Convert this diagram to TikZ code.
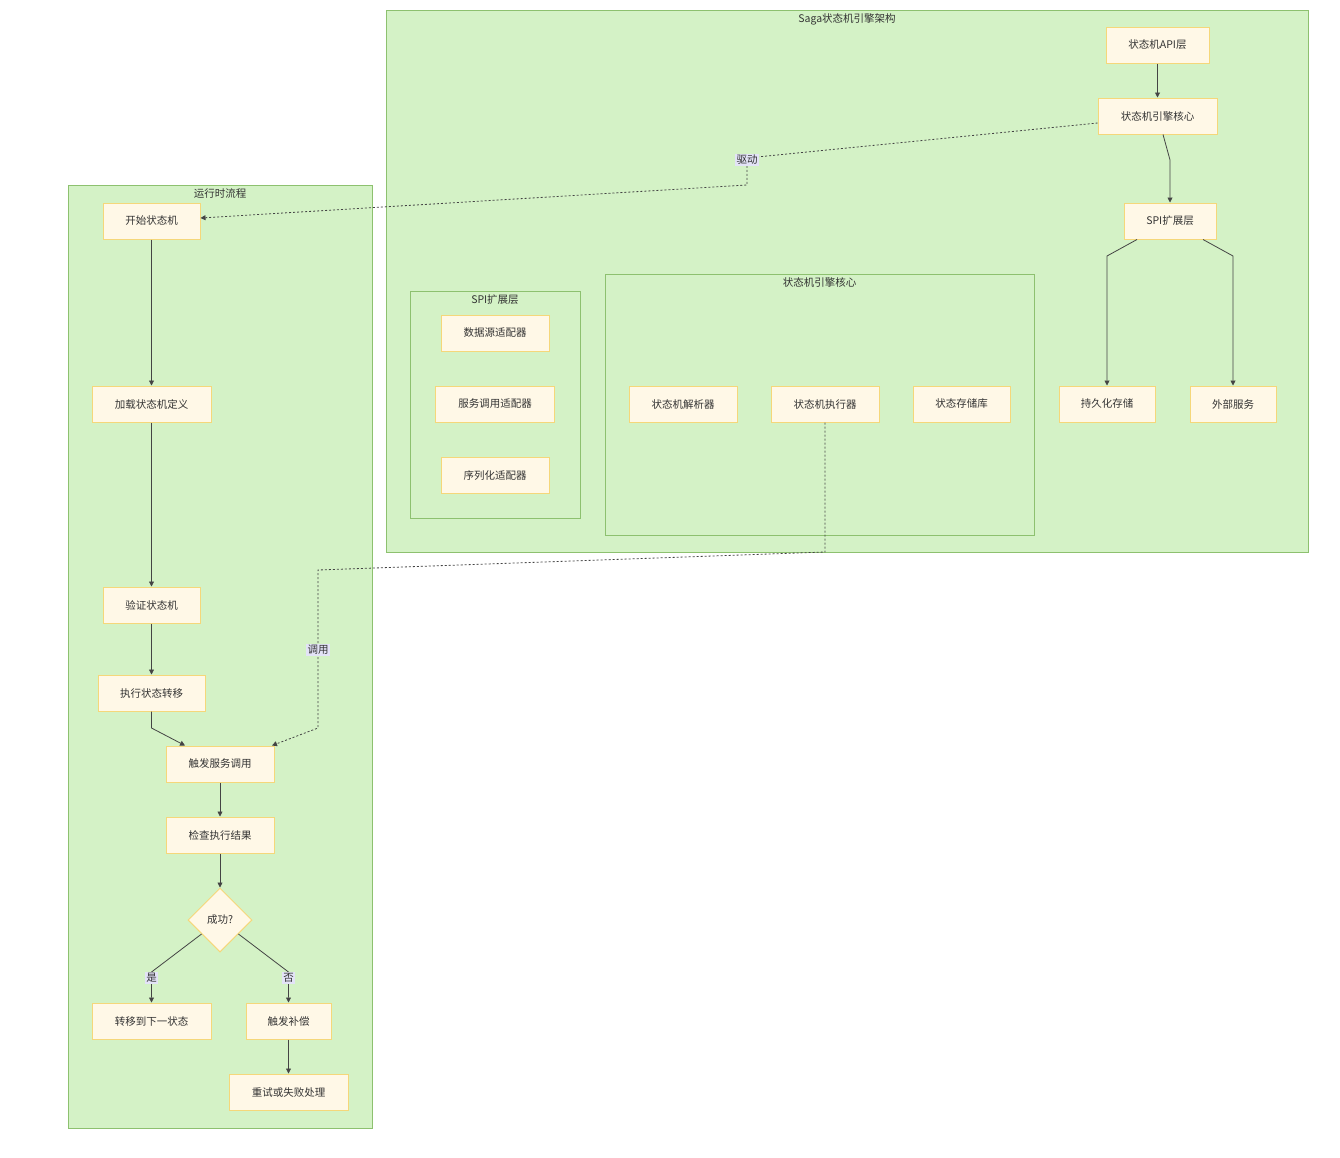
\documentclass[tikz,border=0pt]{standalone}
\usepackage{fontspec}
\setmainfont{Noto Sans CJK SC}
\usetikzlibrary{arrows.meta,shapes.geometric,calc}
\definecolor{clfill}{HTML}{D4F2C6}
\definecolor{cldraw}{HTML}{8DC16F}
\definecolor{ndfill}{HTML}{FFF8E7}
\definecolor{nddraw}{HTML}{F5D77A}
\definecolor{lbfill}{HTML}{E3E3F7}
\definecolor{txt}{HTML}{333333}
\definecolor{edge}{HTML}{444444}
\tikzset{
  cluster/.style={draw=cldraw,fill=clfill,line width=1pt},
  cltitle/.style={font=\fontsize{10.5}{12}\selectfont,text=txt,anchor=north,inner sep=0pt},
  box/.style={draw=nddraw,fill=ndfill,line width=1pt,minimum height=36pt,inner sep=0pt,
    font=\fontsize{10.5}{12}\selectfont,text=txt},
  dec/.style={diamond,draw=nddraw,fill=ndfill,line width=1pt,minimum width=64pt,minimum height=64pt,
    inner sep=0pt,font=\fontsize{10.5}{12}\selectfont,text=txt,aspect=1},
  lab/.style={fill=lbfill,inner sep=1.5pt,font=\fontsize{10.5}{12}\selectfont,text=txt},
  conn/.style={draw=edge,line width=0.8pt,-{Triangle[length=5pt,width=5pt]}},
  dconn/.style={conn,dash pattern=on 2pt off 2pt},
}
\begin{document}
\begin{tikzpicture}[x=1pt,y=-1pt]
\useasboundingbox (0,0) rectangle (1340,1157);
\fill[white] (0,0) rectangle (1340,1157);
% clusters
\draw[cluster] (386,10) rectangle (1308,552);
\node[cltitle] (tsaga) at (847,13) {Saga状态机引擎架构};
\draw[cluster] (410,291) rectangle (580,518);
\node[cltitle] (tspi) at (495,294) {SPI扩展层};
\draw[cluster] (605,274) rectangle (1034,535);
\node[cltitle] (tcore) at (819.5,277) {状态机引擎核心};
\draw[cluster] (68,185) rectangle (372,1128);
\node[cltitle] (trun) at (220,188) {运行时流程};
% nodes right
\node[box,minimum width=103pt] (api) at (1157.5,45) {状态机API层};
\node[box,minimum width=119pt] (core) at (1157.5,116) {状态机引擎核心};
\node[box,minimum width=92pt] (spi) at (1170,221) {SPI扩展层};
\node[box,minimum width=96pt] (persist) at (1107,404) {持久化存储};
\node[box,minimum width=86pt] (ext) at (1233,404) {外部服务};
% spi cluster
\node[box,minimum width=108pt] (ds) at (495,333) {数据源适配器};
\node[box,minimum width=119pt] (svc) at (495,404) {服务调用适配器};
\node[box,minimum width=108pt] (ser) at (495,475) {序列化适配器};
% core cluster
\node[box,minimum width=108pt] (parser) at (683,404) {状态机解析器};
\node[box,minimum width=108pt] (executor) at (825,404) {状态机执行器};
\node[box,minimum width=97pt] (store) at (961.5,404) {状态存储库};
% runtime
\node[box,minimum width=97pt] (start) at (151.5,221) {开始状态机};
\node[box,minimum width=119pt] (load) at (151.5,404) {加载状态机定义};
\node[box,minimum width=97pt] (valid) at (151.5,605) {验证状态机};
\node[box,minimum width=107pt] (trans) at (151.5,693) {执行状态转移};
\node[box,minimum width=108pt] (trig) at (220,764) {触发服务调用};
\node[box,minimum width=108pt] (check) at (220,835) {检查执行结果};
\node[dec] (succ) at (220,920) {成功?};
\node[box,minimum width=119pt] (next) at (151.5,1021) {转移到下一状态};
\node[box,minimum width=85pt] (comp) at (288.5,1021) {触发补偿};
\node[box,minimum width=119pt] (retry) at (288.5,1092) {重试或失败处理};
% edges right
\draw[conn] (api) -- (core);
\draw[conn] ($(core.south)+(5.5,0)$) -- (1170,160) -- (spi);
\draw[conn] ($(spi.south)+(-33,0)$) -- (1107,256) -- (persist);
\draw[conn] ($(spi.south)+(33,0)$) -- (1233,256) -- (ext);
% runtime edges
\draw[conn] (start) -- (load);
\draw[conn] (load) -- (valid);
\draw[conn] (valid) -- (trans);
\draw[conn] (trans.south) -- (151.5,728) -- ($(trig.north)+(-35,0)$);
\draw[conn] (trig) -- (check);
\draw[conn] (check) -- (succ);
\draw[conn] (succ) -- (151.5,972) -- (next);
\node[lab] (lyes) at (151.5,978) {是};
\draw[conn] (succ) -- (288.5,972) -- (comp);
\node[lab] (lno) at (288.5,978) {否};
\draw[conn] (comp) -- (retry);
% dotted cross edges
\draw[dconn] ($(core.west)+(0,7)$) -- (747,158) -- (747,185) -- ($(start.east)+(0,-3)$);
\node[lab] (ldrive) at (747,160) {驱动};
\draw[dconn] (executor.south) -- (825,552) -- (318,570) -- (318,728) -- ($(trig.north)+(52,0)$);
\node[lab] (lcall) at (318,650) {调用};
\end{tikzpicture}
\end{document}
